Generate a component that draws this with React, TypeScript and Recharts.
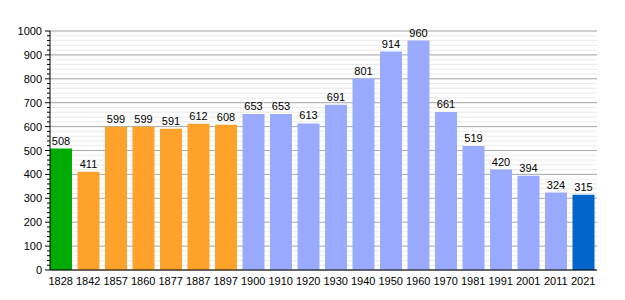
import { Bar, BarChart, CartesianGrid, Cell, LabelList, XAxis, YAxis } from "recharts"

// census years and population
const years = ["1828", "1842", "1857", "1860", "1877", "1887", "1897", "1900", "1910", "1920", "1930", "1940", "1950", "1960", "1970", "1981", "1991", "2001", "2011", "2021"]
const population = [508, 411, 599, 599, 591, 612, 608, 653, 653, 613, 691, 801, 914, 960, 661, 519, 420, 394, 324, 315]

const majorTicks = [0, 100, 200, 300, 400, 500, 600, 700, 800, 900, 1000]
const minorTicks = Array.from({ length: 51 }, (_, i) => i * 20)

const data = years.map((year, i) => ({ year, pop: population[i] }))

const barColor = (i: number) => {
  if (i === 0) return "#00aa00"
  if (i <= 6) return "#ffa22b"
  if (i === years.length - 1) return "#0066cc"
  return "#99aaff"
}

const FONT = "'Liberation Sans', Arial, sans-serif"

const YTick = (props: any) => {
  const { x, y, payload } = props
  const major = payload.value % 100 === 0
  return (
    <g>
      <line x1={x - (major ? 5 : 3)} x2={x} y1={y} y2={y} stroke="#000" strokeWidth={1} />
      {major && (
        <text x={x - 8} y={y} dy={4} textAnchor="end" fontSize={11} fill="#000" fontFamily={FONT}>
          {payload.value}
        </text>
      )}
    </g>
  )
}

export default function App() {
  return (
    <div style={{ position: "absolute", left: 0, top: 0 }}>
      <BarChart
        width={625}
        height={300}
        data={data}
        margin={{ top: 31, right: 28, left: 0, bottom: 0 }}
        barSize={22}
      >
        <CartesianGrid vertical={false} horizontalValues={minorTicks} stroke="#ebebeb" />
        <CartesianGrid vertical={false} horizontalValues={majorTicks} stroke="#aaaaaa" />
        <XAxis
          dataKey="year"
          interval={0}
          height={30}
          tickLine={false}
          axisLine={{ stroke: "#000" }}
          padding={{ left: -3, right: 0 }}
          tick={{ fontSize: 11, fill: "#000", fontFamily: FONT }}
          tickMargin={1}
        />
        <YAxis
          width={50}
          domain={[0, 1000]}
          ticks={minorTicks}
          interval={0}
          tickLine={false}
          tickSize={0}
          tickMargin={0}
          axisLine={{ stroke: "#000" }}
          tick={<YTick />}
        />
        <Bar dataKey="pop" isAnimationActive={false}>
          {data.map((d, i) => (
            <Cell key={d.year} fill={barColor(i)} />
          ))}
          <LabelList dataKey="pop" position="top" offset={4} fontSize={11} fill="#000" fontFamily={FONT} />
        </Bar>
      </BarChart>
    </div>
  )
}
